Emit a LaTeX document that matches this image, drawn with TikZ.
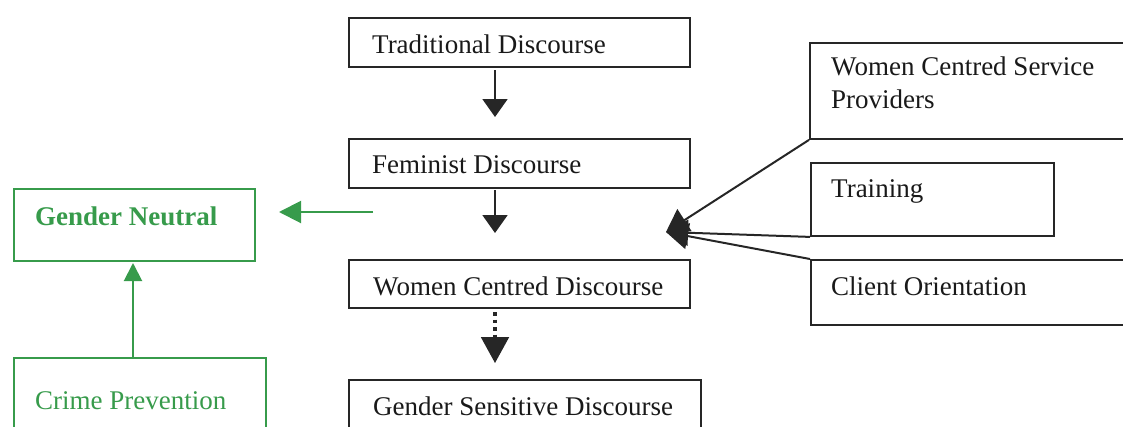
\documentclass[tikz,border=0pt]{standalone}
\usepackage{fontspec}
\setmainfont{Liberation Serif}
\usetikzlibrary{arrows.meta}
\definecolor{gr}{RGB}{55,155,75}
\tikzset{
  box/.style={draw=black!85, line width=1.9pt, anchor=north west, inner sep=0pt},
  gbox/.style={draw=gr, line width=2pt, anchor=north west, inner sep=0pt},
  txt/.style={anchor=base west, inner sep=0pt, text=black!90, font=\fontsize{27}{30}\selectfont},
  arr/.style={draw=black!85, line width=2pt, -{Triangle[width=25pt,length=18pt]}},
  carr/.style={draw=black!85, line width=2pt, -{Triangle[width=26pt,length=22pt]}},
  garr/.style={draw=gr, line width=2pt},
}
\begin{document}
\begin{tikzpicture}[x=1pt,y=-1pt]
\useasboundingbox (0,0) rectangle (1123,426);
\clip (0,0) rectangle (1123,426);
% central boxes
\node[box, minimum width=341pt, minimum height=49pt] (trad) at (348,17) {};
\node[box, minimum width=341pt, minimum height=49pt] (fem) at (348,138) {};
\node[box, minimum width=341pt, minimum height=48pt] (wcd) at (348,259) {};
\node[box, minimum width=352pt, minimum height=80pt] (gsd) at (348,379) {};
\node[txt] (ttrad) at (372,53) {Traditional Discourse};
\node[txt] (tfem) at (372,173) {Feminist Discourse};
\node[txt] (twcd) at (373,295) {Women Centred Discourse};
\node[txt] (tgsd) at (373,415) {Gender Sensitive Discourse};
% right boxes
\node[box, minimum width=330pt, minimum height=96pt] (wcsp) at (809,42) {};
\node[box, minimum width=243pt, minimum height=73pt] (train) at (810,162) {};
\node[box, minimum width=330pt, minimum height=65pt] (client) at (810,259) {};
\node[txt] (twcsp1) at (831,75) {Women Centred Service};
\node[txt] (twcsp2) at (831,108) {Providers};
\node[txt] (ttrain) at (831,197) {Training};
\node[txt] (tclient) at (831,295) {Client Orientation};
% green boxes
\node[gbox, minimum width=241pt, minimum height=72pt] (gn) at (13,188) {};
\node[gbox, minimum width=252pt, minimum height=90pt] (cp) at (13,357) {};
\node[txt, text=gr, font=\fontsize{27}{30}\selectfont\bfseries] (tgn) at (35,225) {Gender Neutral};
\node[txt, text=gr] (tcp) at (35,409) {Crime Prevention};
% arrow coordinates
\coordinate (a1s) at (495,70);
\coordinate (a1e) at (495,117);
\coordinate (a2s) at (495,190);
\coordinate (a2e) at (495,233);
\coordinate (a3s) at (495,312);
\coordinate (a3e) at (495,363);
\coordinate (conv) at (666,232);
\coordinate (gls) at (373,212);
\coordinate (gle) at (279,212);
\coordinate (gvs) at (133,357);
\coordinate (gve) at (133,263);
% arrows
\draw[arr] (a1s) -- (a1e);
\draw[arr] (a2s) -- (a2e);
\draw[draw=black!85, line width=3.5pt, dash pattern=on 3.5pt off 4pt] (a3s) -- (495,340);
\draw[draw=black!85, line width=2pt, -{Triangle[width=28pt,length=26pt]}] (495,337) -- (a3e);
\draw[carr] (wcsp.south west) -- (conv);
\draw[carr] (train.south west) -- (conv);
\draw[carr] (client.north west) -- (conv);
\draw[garr, -{Triangle[width=22pt,length=22pt]}] (gls) -- (gle);
\draw[garr, -{Triangle[width=18pt,length=18pt]}] (gvs) -- (gve);
\end{tikzpicture}
\end{document}
